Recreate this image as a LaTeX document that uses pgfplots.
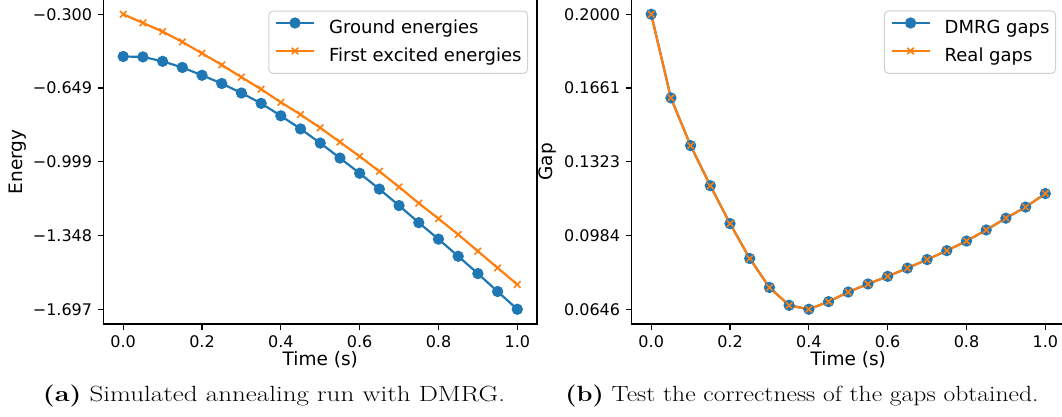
\documentclass[border=0pt]{standalone}
\usepackage{fontspec}
\usepackage{graphicx}
\usepackage{pgfplots}
\pgfplotsset{compat=1.18}
\newfontfamily\dejavu{DejaVu Sans}
\definecolor{tblue}{RGB}{31,119,180}
\definecolor{torange}{RGB}{255,127,14}

\pgfplotstableread{
t ground excited
0.00 -0.500 -0.300
0.05 -0.502 -0.341
0.10 -0.523 -0.382
0.15 -0.552 -0.431
0.20 -0.589 -0.485
0.25 -0.628 -0.540
0.30 -0.673 -0.598
0.35 -0.722 -0.655
0.40 -0.781 -0.717
0.45 -0.843 -0.775
0.50 -0.910 -0.838
0.55 -0.981 -0.905
0.60 -1.053 -0.973
0.65 -1.128 -1.044
0.70 -1.206 -1.118
0.75 -1.287 -1.195
0.80 -1.365 -1.268
0.85 -1.446 -1.343
0.90 -1.528 -1.422
0.95 -1.613 -1.501
1.00 -1.697 -1.580
}\energies

\pgfplotstableread{
t dmrg real
0.00 0.2000 0.2000
0.05 0.1616 0.1616
0.10 0.1397 0.1397
0.15 0.1213 0.1213
0.20 0.1039 0.1039
0.25 0.0879 0.0879
0.30 0.0746 0.0746
0.35 0.0664 0.0664
0.40 0.0646 0.0646
0.45 0.0681 0.0681
0.50 0.0725 0.0725
0.55 0.0762 0.0762
0.60 0.0797 0.0797
0.65 0.0835 0.0835
0.70 0.0874 0.0874
0.75 0.0915 0.0915
0.80 0.0959 0.0959
0.85 0.1010 0.1010
0.90 0.1064 0.1064
0.95 0.1115 0.1115
1.00 0.1177 0.1177
}\gaps

\newcommand{\tickfont}{\dejavu\fontsize{16}{19}\selectfont}
\newcommand{\labfont}{\dejavu\fontsize{18.5}{22}\selectfont}
\newcommand{\legfont}{\dejavu\fontsize{18}{21}\selectfont}

\pgfplotsset{
  mplstyle/.style={
    scale only axis, width=433.5pt, height=324.5pt,
    xmin=-0.05, xmax=1.05,
    xtick={0,0.2,0.4,0.6,0.8,1.0},
    xticklabels={0.0,0.2,0.4,0.6,0.8,1.0},
    tick align=outside, tick pos=left,
    major tick length=5.6pt,
    tick style={black, line width=1.25pt},
    axis line style={black, line width=1.25pt},
    tick label style={font=\tickfont, inner sep=0pt, text height=11.7pt, text depth=0pt},
    xticklabel style={anchor=north, yshift=-5.6pt},
    yticklabel style={anchor=east, xshift=-5.6pt},
    every axis x label/.style={at={(axis description cs:0.5,-0.1294)}, anchor=base, font=\labfont},
    legend cell align=left,
    legend style={
      at={(1,1)}, anchor=north east, xshift=-9pt, yshift=-11pt,
      draw=black!18, line width=1pt, rounded corners=4pt,
      fill=white, fill opacity=0.8, text opacity=1,
      font=\legfont,
      inner xsep=6pt, inner ysep=7.5pt,
      row sep=10pt, column sep=14pt,
      nodes={inner sep=0pt, text height=13.5pt, text depth=4pt},
    },
    legend image code/.code={\draw[opacity=1, mark repeat=2, mark phase=2] plot coordinates {(0pt,6pt) (19pt,6pt) (38pt,6pt)};},
  },
  bluestyle/.style={tblue, line width=2.2pt, mark=*, mark size=4.5pt, mark options={solid, fill=tblue, draw=none}},
  orangestyle/.style={torange, line width=2.2pt, mark=x, mark size=4.6pt, mark options={solid, line width=1.6pt}},
}

\begin{document}
\begin{tikzpicture}
\path[use as bounding box] (0pt,0pt) rectangle (1062pt,416pt);

\begin{axis}[mplstyle,
  at={(103.5pt,92pt)}, anchor=south west,
  ymin=-1.76685, ymax=-0.23015,
  ytick={-1.697,-1.34775,-0.9985,-0.64925,-0.300},
  yticklabels={−1.697,−1.348,−0.999,−0.649,−0.300},
  xlabel={Time (s)}, ylabel={Energy},
  every axis y label/.style={at={(axis description cs:-0.1873,0.5)}, rotate=90, anchor=base, font=\labfont},
]
\addplot[bluestyle] table[x=t, y=ground] {\energies};
\addlegendentry{Ground energies}
\addplot[orangestyle] table[x=t, y=excited] {\energies};
\addlegendentry{First excited energies}
\end{axis}

\begin{axis}[mplstyle,
  at={(631.5pt,92pt)}, anchor=south west,
  ymin=0.05783, ymax=0.20677,
  ytick={0.0646,0.09845,0.1323,0.16615,0.2},
  yticklabels={0.0646,0.0984,0.1323,0.1661,0.2000},
  xlabel={Time (s)}, ylabel={Gap},
  every axis y label/.style={at={(axis description cs:-0.1811,0.5)}, rotate=90, anchor=base, font=\labfont},
]
\addplot[bluestyle] table[x=t, y=dmrg] {\gaps};
\addlegendentry{DMRG gaps}
\addplot[orangestyle] table[x=t, y=real] {\gaps};
\addlegendentry{Real gaps}
\end{axis}

\node[anchor=base, inner sep=0pt] at (274pt,14.3pt) {\resizebox{462pt}{\height}{\fontsize{22}{26}\selectfont\textbf{(a)} Simulated annealing run with DMRG.}};
\node[anchor=base, inner sep=0pt] at (802pt,14.3pt) {\resizebox{473pt}{\height}{\fontsize{22}{26}\selectfont\textbf{(b)} Test the correctness of the gaps obtained.}};
\end{tikzpicture}
\end{document}
